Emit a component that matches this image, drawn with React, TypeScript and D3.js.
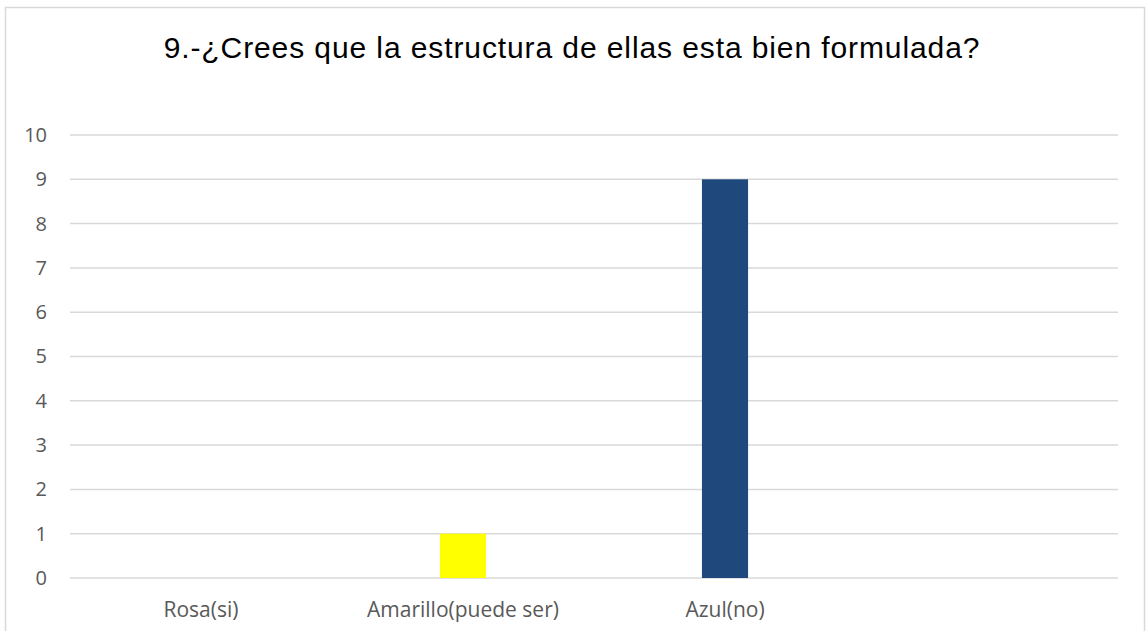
import React, { useEffect, useRef } from "react";
import * as d3 from "d3";

const categories = ["Rosa(si)", "Amarillo(puede ser)", "Azul(no)", ""];
const values = [0, 1, 9, 0];
const barColors = ["#FF99CC", "#FFFF00", "#1F497D", "#FFFFFF"];
const yTicks = [0, 1, 2, 3, 4, 5, 6, 7, 8, 9, 10];
const title = "9.-¿Crees que la estructura de ellas esta bien formulada?";

const W = 1147;
const H = 631;

function App() {
  const svgRef = useRef<SVGSVGElement | null>(null);

  useEffect(() => {
    const svg = d3.select(svgRef.current);
    svg.selectAll("*").remove();

    const left = 70;
    const right = 1118;
    const top = 135;
    const bottom = 578;

    // chart frame
    svg.append("rect")
      .attr("x", 5.5)
      .attr("y", 7.5)
      .attr("width", 1139)
      .attr("height", 640)
      .attr("fill", "#fff")
      .attr("stroke", "#D9D9D9")
      .attr("stroke-width", 1.5);

    svg.append("text")
      .attr("x", 572)
      .attr("y", 58)
      .attr("text-anchor", "middle")
      .style("font-family", "'Liberation Sans', Arial, sans-serif")
      .style("font-size", "30px")
      .style("letter-spacing", "0.9px")
      .attr("fill", "#000")
      .text(title);

    const x = d3.scaleBand<string>()
      .domain(categories.map((c, i) => c + "#" + i))
      .range([left, right])
      .padding(0);

    const y = d3.scaleLinear().domain([0, 10]).range([bottom, top]);

    // gridlines
    svg.append("g")
      .selectAll("line")
      .data(yTicks)
      .join("line")
      .attr("x1", left)
      .attr("x2", right)
      .attr("y1", (d) => y(d))
      .attr("y2", (d) => y(d))
      .attr("stroke", "#D9D9D9")
      .attr("stroke-width", 1.5);

    const yAxis = d3.axisLeft(y).tickValues(yTicks).tickSize(0).tickPadding(23);
    const gy = svg.append("g")
      .attr("transform", `translate(${left},0)`)
      .call(yAxis);
    gy.select(".domain").remove();
    gy.selectAll("text")
      .style("font-family", "'Open Sans', sans-serif")
      .style("font-size", "20px")
      .attr("fill", "#595959");

    const barW = x.bandwidth() * 0.176;
    svg.append("g")
      .selectAll("rect")
      .data(values)
      .join("rect")
      .attr("x", (d, i) => (x(categories[i] + "#" + i) as number) + x.bandwidth() / 2 - barW / 2)
      .attr("y", (d) => y(d))
      .attr("width", barW)
      .attr("height", (d) => y(0) - y(d))
      .attr("fill", (d, i) => barColors[i]);

    const xAxis = d3.axisBottom(x).tickSize(0).tickPadding(24)
      .tickFormat((d) => d.split("#")[0]);
    const gx = svg.append("g")
      .attr("transform", `translate(0,${bottom})`)
      .call(xAxis);
    gx.select(".domain").remove();
    gx.selectAll("text")
      .style("font-family", "'Open Sans', sans-serif")
      .style("font-size", "21px")
      .attr("fill", "#595959");
  }, []);

  return (
    <svg
      ref={svgRef}
      width={W}
      height={H}
      style={{ position: "absolute", left: 0, top: 0, background: "#fff" }}
    />
  );
}

export default App;
